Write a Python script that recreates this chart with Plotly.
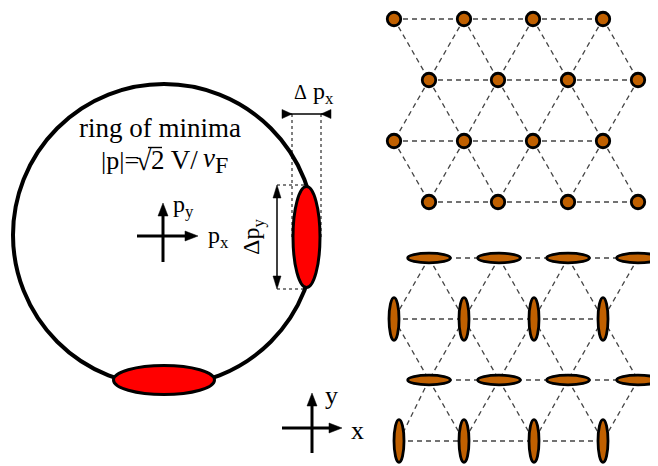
import plotly.graph_objects as go

W, H = 658, 466
PAGE_OFFSET = 8  # default body margin of the html page
FONT = "Liberation Serif"
ORANGE = "#C06000"
RED = "#FF0000"

# ---- data (pixel space of the 658x466 canvas) ----
ring_center = (164, 235)
ring_radius = 151

minima_centers = [(306.5, 237), (164, 380)]   # red pockets on the ring
minima_semi = [(13.5, 50.5), (50.5, 14.5)]

# top lattice: triangular lattice of round sites
top_rows_y = [19, 80, 141, 202]
top_rows_x = [[394, 464, 533, 603], [429, 498, 568, 638],
              [394, 464, 533, 603], [429, 498, 568, 638]]

# bottom lattice: elongated sites, alternating orientation
bot_rows_y = [258, 319, 380, 441]
bot_rows_x = [[429, 499, 568, 638], [394, 464, 534, 603],
              [429, 499, 568, 638], [399, 464, 534, 603]]
bot_rows_orient = ["h", "v", "h", "v"]

fig = go.Figure()


def lattice_lines(rows_y, rows_x):
    xs, ys = [], []
    for r, (y, row) in enumerate(zip(rows_y, rows_x)):
        for a, b in zip(row[:-1], row[1:]):
            xs += [a, b, None]; ys += [y, y, None]
        if r + 1 < len(rows_y):
            y2 = rows_y[r + 1]
            for a in row:
                for b in rows_x[r + 1]:
                    if abs(a - b) < 50:
                        xs += [a, b, None]; ys += [y, y2, None]
    return xs, ys


for ry, rx in [(top_rows_y, top_rows_x), (bot_rows_y, bot_rows_x)]:
    lx, ly = lattice_lines(ry, rx)
    fig.add_trace(go.Scatter(x=lx, y=ly, mode="lines", hoverinfo="skip",
                             line=dict(color="#444444", width=1.3, dash="5px,4px")))

# top lattice sites
tx, ty = [], []
for y, row in zip(top_rows_y, top_rows_x):
    for x in row:
        tx.append(x); ty.append(y)
fig.add_trace(go.Scatter(x=tx, y=ty, mode="markers", hoverinfo="skip",
                         marker=dict(size=13.5, color=ORANGE,
                                     line=dict(color="black", width=2.8))))

shapes = []
# bottom lattice ellipses
for y, row, o in zip(bot_rows_y, bot_rows_x, bot_rows_orient):
    a, b = (21.3, 4.8) if o == "h" else (5.0, 21.3)
    for x in row:
        shapes.append(dict(type="circle", xref="x", yref="y",
                           x0=x - a, x1=x + a, y0=y - b, y1=y + b,
                           fillcolor=ORANGE, line=dict(color="black", width=2.8),
                           layer="above"))

# ring of minima
cx, cy = ring_center
shapes.append(dict(type="circle", xref="x", yref="y",
                   x0=cx - ring_radius, x1=cx + ring_radius,
                   y0=cy - ring_radius, y1=cy + ring_radius,
                   line=dict(color="black", width=4), layer="above"))
for (ex, ey), (a, b) in zip(minima_centers, minima_semi):
    shapes.append(dict(type="circle", xref="x", yref="y",
                       x0=ex - a, x1=ex + a, y0=ey - b, y1=ey + b,
                       fillcolor=RED, line=dict(color="black", width=3),
                       layer="above"))


def seg(x0, y0, x1, y1, w, dash="solid"):
    shapes.append(dict(type="line", xref="x", yref="y", x0=x0, y0=y0, x1=x1, y1=y1,
                       line=dict(color="black", width=w, dash=dash), layer="above"))


def head(tx_, ty_, dx, dy, length, half):
    # tip at (tx_, ty_), pointing in direction (dx, dy) (unit vector)
    bx, by = tx_ - dx * length, ty_ - dy * length
    px, py = -dy * half, dx * half
    path = (f"M{tx_},{ty_} L{bx + px},{by + py} L{bx - px},{by - py} Z")
    shapes.append(dict(type="path", xref="x", yref="y", path=path,
                       fillcolor="black", line=dict(color="black", width=0.5),
                       layer="above"))


def cross(cx_, cy_, left, right, down, up, w=3):
    seg(cx_ - left, cy_, cx_ + right - 8, cy_, w)
    head(cx_ + right, cy_, 1, 0, 13, 5)
    seg(cx_, cy_ + down, cx_, cy_ - up + 8, w)
    head(cx_, cy_ - up, 0, -1, 13, 5)


# momentum axes and real-space axes
cross(163, 236, 26, 35, 26, 33)
cross(312, 428, 30, 30, 25, 35)

# Delta p_y double arrow
seg(277, 195, 277, 279, 1.5)
head(277, 185, 0, -1, 13, 4)
head(277, 289, 0, 1, 13, 4)
# dotted guides for Delta p_y
seg(277, 185, 306, 185, 1, "dot")
seg(277, 289, 306, 289, 1, "dot")

# Delta p_x inward arrows
seg(282, 114, 331, 114, 1.5)
head(292, 114, 1, 0, 10, 4.5)
head(321, 114, -1, 0, 10, 4.5)
seg(292, 114, 292, 237, 1, "dot")
seg(321, 114, 321, 237, 1, "dot")

ann = []


def txt(x, y, s, size, xanchor="center", angle=0):
    ann.append(dict(x=x, y=y, xref="x", yref="y", text=s, showarrow=False,
                    xanchor=xanchor, yanchor="middle", textangle=angle,
                    font=dict(family=FONT, size=size, color="black")))


txt(159.5, 128, "ring of minima", 27)
# formula split so that the radical bar can sit over the "2"
txt(99, 160, "|p|=", 26, xanchor="left")
txt(144, 160, "√", 28, xanchor="center")
txt(149, 160, "2 V/", 27, xanchor="left")
txt(201, 160, "<i>v</i><sub><span style='font-size:24px'>F</span></sub>", 27,
    xanchor="left")
seg(148, 147.5, 162, 147.5, 1.4)

txt(171, 206, "p<sub>y</sub>", 24, xanchor="left")
txt(206, 237, "p<sub>x</sub>", 24, xanchor="left")
txt(253, 237, "Δp<sub>y</sub>", 24, angle=-90)
txt(314, 93, "<span style='font-size:20px'>Δ</span> p<sub>x</sub>", 24)
txt(331, 395, "y", 26)
txt(357, 430, "x", 26)

o = PAGE_OFFSET
fig.update_layout(
    width=W, height=H, margin=dict(l=0, r=0, t=0, b=0),
    paper_bgcolor="white", plot_bgcolor="white", showlegend=False,
    xaxis=dict(range=[o, W + o], visible=False, fixedrange=True),
    yaxis=dict(range=[H + o, o], visible=False, fixedrange=True),
    shapes=shapes, annotations=ann,
)
fig.write_html("out.html")
